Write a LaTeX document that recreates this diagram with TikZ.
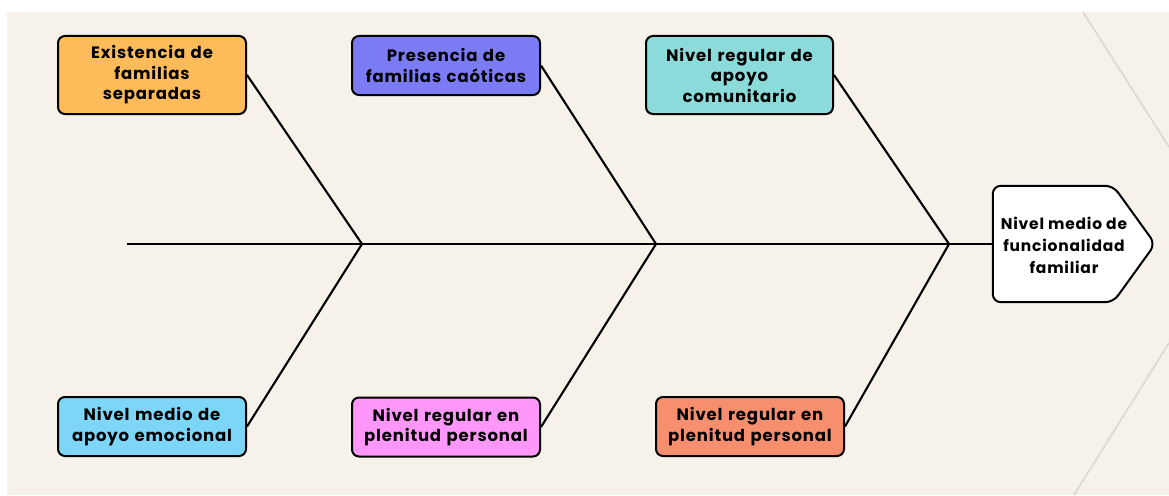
\documentclass[tikz,border=0pt]{standalone}
\usepackage{fontspec}
\setmainfont{Poppins}[LetterSpace=5]
\definecolor{bgbeige}{HTML}{F6F2EA}
\definecolor{faint}{HTML}{DDD8CD}
\definecolor{corange}{HTML}{FDBB5A}
\definecolor{cpurple}{HTML}{7B7CF5}
\definecolor{cteal}{HTML}{8ADBD9}
\definecolor{cblue}{HTML}{7DD6F7}
\definecolor{cpink}{HTML}{FF97FB}
\definecolor{csalmon}{HTML}{F78F6F}
\tikzset{
  cause/.style={draw=black, line width=2pt, rounded corners=7pt, minimum width=188pt, text width=180pt, align=center, inner sep=0pt, font=\fontsize{16.5}{20.5}\selectfont\bfseries},
  bone/.style={line width=2.1pt, black},
}
\begin{document}
\begin{tikzpicture}[x=1pt,y=-1pt]
\useasboundingbox (0,0) rectangle (1169,495);
\fill[white] (0,0) rectangle (1169,495);
\fill[bgbeige] (7,12) rectangle (1169,495);
\draw[faint, line width=1.6pt] (1083,12) -- (1169,147);
\draw[faint, line width=1.6pt] (1169,343) -- (1074,495);

\coordinate (tail) at (127,244);
\coordinate (j1) at (362,244);
\coordinate (j2) at (656,244);
\coordinate (j3) at (949,244);

\node[cause, fill=corange, minimum height=78pt] (c1) at (152,75) {Existencia de\\familias\\separadas};
\node[cause, fill=cpurple, minimum height=59pt] (c2) at (446,65.5) {Presencia de\\familias caóticas};
\node[cause, fill=cteal, minimum height=78pt, minimum width=187pt] (c3) at (739.5,75) {Nivel regular de\\apoyo\\comunitario};
\node[cause, fill=cblue, minimum height=59pt] (c4) at (152,426.5) {Nivel medio de\\apoyo emocional};
\node[cause, fill=cpink, minimum height=59pt] (c5) at (446,427) {Nivel regular en\\plenitud personal};
\node[cause, fill=csalmon, minimum height=59pt] (c6) at (750,426.5) {Nivel regular en\\plenitud personal};

\node[minimum width=162pt, minimum height=116pt, inner sep=0pt] (head) at (1074,244) {};
\draw[line width=2pt, fill=white, rounded corners=8pt]
  (head.north west) -- ([xshift=-42pt]head.north east) -- (head.east) -- ([xshift=-42pt]head.south east) -- (head.south west) -- cycle;
\node[align=center, font=\fontsize{15.5}{22}\selectfont\bfseries, inner sep=0pt] (headtext) at (1064,245) {Nivel medio de\\funcionalidad\\familiar};

\draw[bone] (tail) -- (j1) -- (j2) -- (j3) -- (head.west);
\draw[bone] (c1.east) -- (j1) -- (c4.east);
\draw[bone] (c2.east) -- (j2) -- (c5.east);
\draw[bone] (c3.east) -- (j3) -- (c6.east);
\end{tikzpicture}
\end{document}
